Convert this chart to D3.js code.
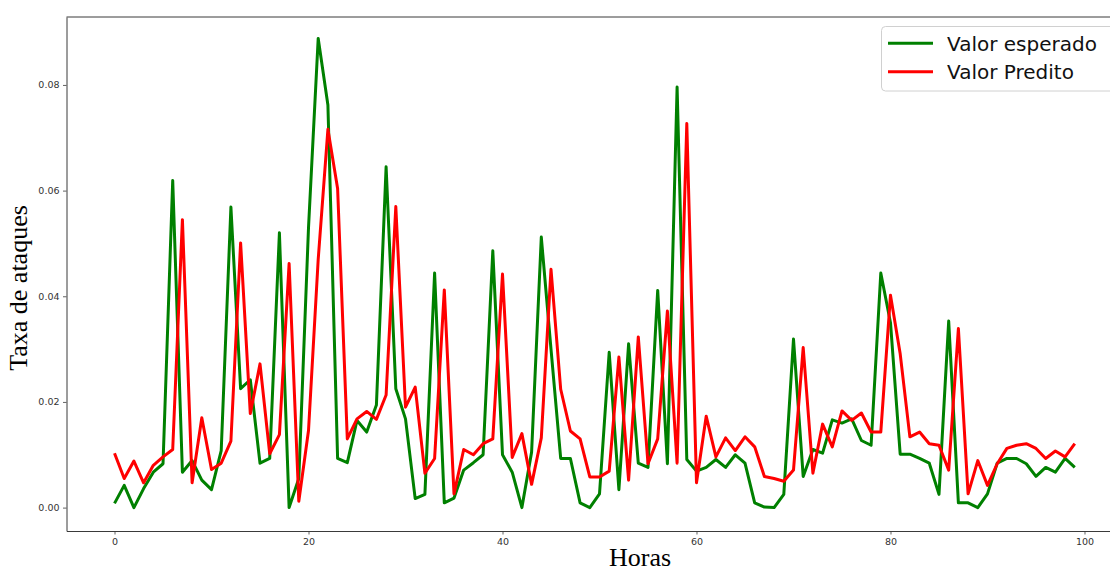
<!DOCTYPE html>
<html>
<head>
<meta charset="utf-8">
<script src="https://cdn.jsdelivr.net/npm/d3@7"></script>
<style>
  html, body { margin: 0; padding: 0; background: #fff; }
  svg { display: block; }
</style>
</head>
<body>
<svg id="chart" width="1110" height="572"></svg>
<script>
// Hours (x)
const hours = d3.range(0, 100);

// Series: "Valor esperado" (expected)
const valorEsperado = [
  0.0008, 0.0042, 0.0000, 0.0036, 0.0067, 0.0083, 0.0619, 0.0067, 0.0089, 0.0052,
  0.0034, 0.0108, 0.0569, 0.0225, 0.0242, 0.0084, 0.0093, 0.0520, 0.0000, 0.0055,
  0.0530, 0.0888, 0.0762, 0.0093, 0.0085, 0.0165, 0.0143, 0.0194, 0.0645, 0.0225,
  0.0168, 0.0017, 0.0025, 0.0444, 0.0009, 0.0018, 0.0071, 0.0085, 0.0100, 0.0486,
  0.0100, 0.0067, 0.0000, 0.0105, 0.0512, 0.0300, 0.0093, 0.0093, 0.0009, 0.0000,
  0.0026, 0.0294, 0.0034, 0.0310, 0.0084, 0.0076, 0.0411, 0.0083, 0.0796, 0.0091,
  0.0069, 0.0076, 0.0091, 0.0076, 0.0100, 0.0084, 0.0009, 0.0001, 0.0000, 0.0025,
  0.0319, 0.0059, 0.0110, 0.0103, 0.0166, 0.0160, 0.0168, 0.0127, 0.0118, 0.0444,
  0.0350, 0.0101, 0.0101, 0.0093, 0.0084, 0.0025, 0.0353, 0.0009, 0.0009, 0.0000,
  0.0026, 0.0084, 0.0093, 0.0093, 0.0083, 0.0059, 0.0076, 0.0067, 0.0093, 0.0076
];

// Series: "Valor Predito" (predicted)
const valorPredito = [
  0.0103, 0.0055, 0.0088, 0.0047, 0.0080, 0.0096, 0.0110, 0.0545, 0.0047, 0.0170,
  0.0072, 0.0084, 0.0126, 0.0501, 0.0178, 0.0272, 0.0102, 0.0138, 0.0462, 0.0012,
  0.0146, 0.0470, 0.0716, 0.0604, 0.0130, 0.0168, 0.0182, 0.0167, 0.0213, 0.0570,
  0.0190, 0.0228, 0.0065, 0.0093, 0.0412, 0.0026, 0.0110, 0.0100, 0.0121, 0.0130,
  0.0442, 0.0095, 0.0140, 0.0044, 0.0132, 0.0451, 0.0224, 0.0145, 0.0130, 0.0058,
  0.0058, 0.0069, 0.0285, 0.0052, 0.0323, 0.0083, 0.0130, 0.0372, 0.0084, 0.0727,
  0.0047, 0.0173, 0.0096, 0.0132, 0.0108, 0.0134, 0.0115, 0.0059, 0.0055, 0.0050,
  0.0071, 0.0303, 0.0065, 0.0158, 0.0115, 0.0183, 0.0165, 0.0179, 0.0143, 0.0143,
  0.0402, 0.0291, 0.0134, 0.0143, 0.0121, 0.0118, 0.0071, 0.0339, 0.0026, 0.0089,
  0.0042, 0.0083, 0.0112, 0.0118, 0.0121, 0.0112, 0.0093, 0.0107, 0.0096, 0.0121
];

const xTicks = [0, 20, 40, 60, 80, 100];
const yTicks = [0.00, 0.02, 0.04, 0.06, 0.08];
const seriesNames = ["Valor esperado", "Valor Predito"];
const seriesColors = ["green", "red"];
const xLabel = "Horas";
const yLabel = "Taxa de ataques";

const svg = d3.select("#chart");
svg.append("rect").attr("width", 1110).attr("height", 572).attr("fill", "#fff");

const plot = { left: 66.5, top: 17, right: 1122.8, bottom: 531 };

const x = d3.scaleLinear().domain([-4.95, 103.95]).range([plot.left, plot.right]);
const y = d3.scaleLinear().domain([-0.00443, 0.09286]).range([plot.bottom, plot.top]);

// Lines
const line = d3.line().x((d, i) => x(hours[i])).y(d => y(d));
svg.append("clipPath").attr("id", "clip").append("rect")
  .attr("x", plot.left).attr("y", plot.top)
  .attr("width", plot.right - plot.left).attr("height", plot.bottom - plot.top);

const g = svg.append("g").attr("clip-path", "url(#clip)");
[valorEsperado, valorPredito].forEach((s, k) => {
  g.append("path")
    .datum(s)
    .attr("fill", "none")
    .attr("stroke", seriesColors[k])
    .attr("stroke-width", 3)
    .attr("stroke-linejoin", "round")
    .attr("d", line);
});

// Axes
const axisColor = "#3a3a3a";
const xAxis = svg.append("g")
  .attr("transform", `translate(0,${plot.bottom})`)
  .call(d3.axisBottom(x).tickValues(xTicks).tickFormat(d3.format("d"))
    .tickSize(3.5).tickPadding(3.5).tickSizeOuter(0));
const yAxis = svg.append("g")
  .attr("transform", `translate(${plot.left},0)`)
  .call(d3.axisLeft(y).tickValues(yTicks).tickFormat(d3.format(".2f"))
    .tickSize(3.5).tickPadding(3.5).tickSizeOuter(0));

[xAxis, yAxis].forEach(a => {
  a.selectAll("path.domain").attr("stroke", axisColor).attr("stroke-width", 1);
  a.selectAll(".tick line").attr("stroke", axisColor).attr("stroke-width", 0.8);
  a.selectAll(".tick text")
    .attr("fill", "#333")
    .style("font-family", "'DejaVu Sans', sans-serif")
    .style("font-size", "9.5px");
});

// Top spine
svg.append("line")
  .attr("x1", plot.left).attr("x2", plot.right)
  .attr("y1", plot.top).attr("y2", plot.top)
  .attr("stroke", axisColor).attr("stroke-width", 1);
// Right spine (outside visible area)
svg.append("line")
  .attr("x1", plot.right).attr("x2", plot.right)
  .attr("y1", plot.top).attr("y2", plot.bottom)
  .attr("stroke", axisColor).attr("stroke-width", 1);

// Axis labels
svg.append("text")
  .attr("x", 640).attr("y", 566)
  .attr("text-anchor", "middle")
  .style("font-family", "'Liberation Serif', 'Times New Roman', serif")
  .style("font-size", "26px")
  .attr("fill", "#000")
  .text(xLabel);

svg.append("text")
  .attr("transform", "translate(27,288) rotate(-90)")
  .attr("text-anchor", "middle")
  .style("font-family", "'Liberation Serif', 'Times New Roman', serif")
  .style("font-size", "26px")
  .attr("fill", "#000")
  .text(yLabel);

// Legend
const legend = svg.append("g");
legend.append("rect")
  .attr("x", 881.5).attr("y", 26.5)
  .attr("width", 250).attr("height", 64.5)
  .attr("rx", 4).attr("ry", 4)
  .attr("fill", "#fff").attr("fill-opacity", 0.85)
  .attr("stroke", "#d0d0d0").attr("stroke-width", 1);
const legendY = [43.3, 71.7];
seriesNames.forEach((name, k) => {
  legend.append("line")
    .attr("x1", 888).attr("x2", 933)
    .attr("y1", legendY[k]).attr("y2", legendY[k])
    .attr("stroke", seriesColors[k]).attr("stroke-width", 3);
  legend.append("text")
    .attr("x", 947).attr("y", legendY[k])
    .attr("dy", "0.36em")
    .style("font-family", "'DejaVu Sans', sans-serif")
    .style("font-size", "20px")
    .attr("fill", "#111")
    .text(name);
});
</script>
</body>
</html>
